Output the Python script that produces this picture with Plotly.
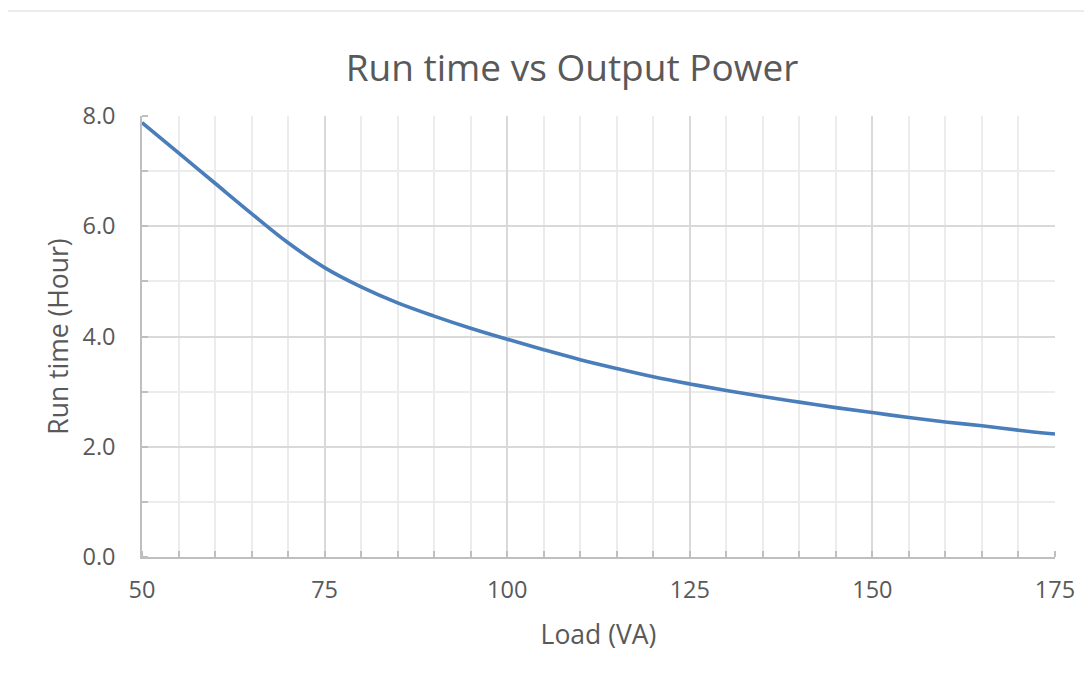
import plotly.graph_objects as go

load_va = [50, 55, 60, 65, 70, 75, 80, 85, 90, 95, 100, 105, 110, 115, 120, 125,
           130, 135, 140, 145, 150, 155, 160, 165, 170, 175]
run_time_h = [7.88, 7.33, 6.78, 6.23, 5.70, 5.25, 4.90, 4.61, 4.37, 4.15, 3.95, 3.76,
              3.58, 3.42, 3.27, 3.14, 3.02, 2.91, 2.81, 2.71, 2.62, 2.53, 2.45, 2.38,
              2.30, 2.23]

x_ticks = [50, 75, 100, 125, 150, 175]
y_ticks = [0, 2, 4, 6, 8]
y_tick_text = ["0.0", "2.0", "4.0", "6.0", "8.0"]

text_color = "#595959"
font_family = "Open Sans"

# page body has an 8px margin, so the figure is offset by 8px
OFF = 8
W, H = 1092 - OFF, 679 - OFF
L, T = 142 - OFF, 116 - OFF
PW, PH = 913, 441

fig = go.Figure()
fig.add_trace(go.Scatter(
    x=load_va, y=run_time_h, mode="lines",
    line=dict(color="#4a7ebb", width=3.6, shape="spline", smoothing=1.0),
    showlegend=False, hoverinfo="x+y",
))

fig.update_layout(
    width=W, height=H,
    margin=dict(l=L, r=W - L - PW, t=T, b=H - T - PH),
    paper_bgcolor="white", plot_bgcolor="white",
    font=dict(family=font_family, color=text_color),
    title=dict(text="Run time vs Output Power", x=(572 - OFF) / W, xref="container",
               xanchor="center", y=1 - (68 - OFF) / H, yref="container", yanchor="middle",
               font=dict(size=37, color=text_color, family=font_family)),
    shapes=[dict(type="rect", xref="paper", yref="paper",
                 x0=(5 - 142) / PW, x1=(1100 - 142) / PW,
                 y0=-(700 - 557) / PH, y1=1 + (116 - 11) / PH,
                 line=dict(color="#d9d9d9", width=1), fillcolor="rgba(0,0,0,0)",
                 layer="below")],
)

fig.update_xaxes(
    range=[50, 175], tickvals=x_ticks, ticktext=[str(v) for v in x_ticks],
    showgrid=True, gridcolor="#d9d9d9", gridwidth=1.5,
    showline=True, linecolor="#bfbfbf", linewidth=1.5,
    ticks="", zeroline=False,
    tickfont=dict(size=23.5, color=text_color), ticklabelstandoff=11,
    minor=dict(dtick=5, tick0=50, showgrid=True, gridcolor="#ececec", gridwidth=1.5,
               ticks="inside", ticklen=6, tickcolor="#bfbfbf", tickwidth=1.5),
    title=dict(text="Load (VA)", font=dict(size=26.5, color=text_color), standoff=21),
)
fig.update_yaxes(
    range=[0, 8], tickvals=y_ticks, ticktext=y_tick_text,
    showgrid=True, gridcolor="#d9d9d9", gridwidth=1.5,
    showline=True, linecolor="#bfbfbf", linewidth=1.5,
    ticks="", zeroline=False,
    tickfont=dict(size=23.5, color=text_color), ticklabelstandoff=20,
    minor=dict(dtick=1, tick0=0, showgrid=True, gridcolor="#ececec", gridwidth=1.5,
               ticks="inside", ticklen=6, tickcolor="#bfbfbf", tickwidth=1.5),
    title=dict(text="Run time (Hour)", font=dict(size=26.5, color=text_color), standoff=6),
)

fig.write_html("out.html")
